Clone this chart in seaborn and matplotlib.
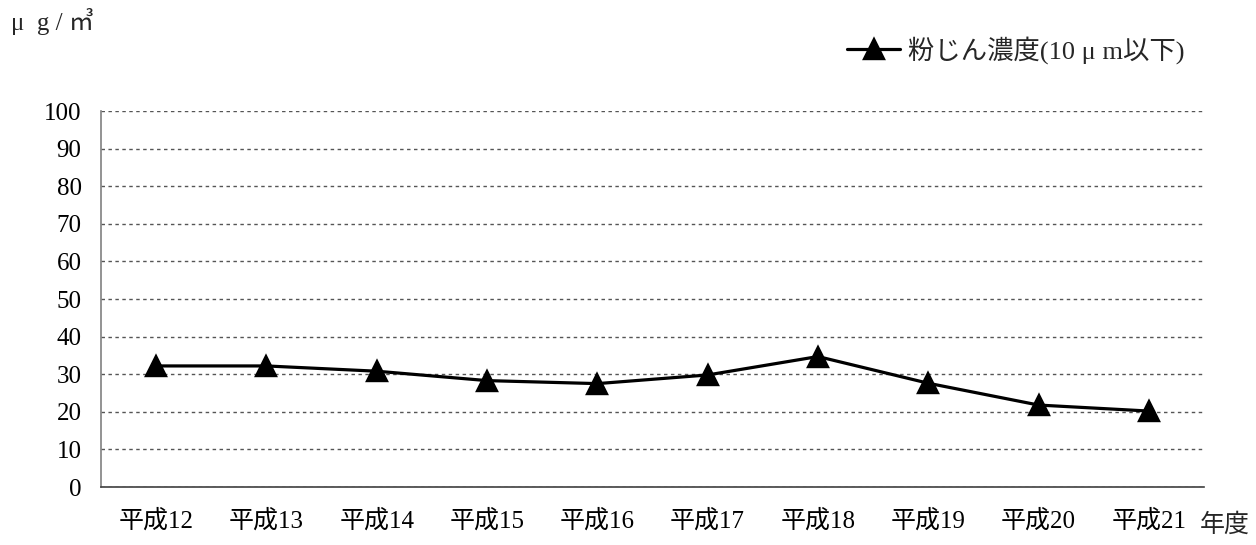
import matplotlib
matplotlib.use('Agg')
import pandas as pd
import matplotlib.pyplot as plt
import seaborn as sns

years = ['平成12', '平成13', '平成14', '平成15', '平成16',
         '平成17', '平成18', '平成19', '平成20', '平成21']
dust = [32.2, 32.2, 30.8, 28.3, 27.5, 29.8, 34.7, 27.6, 21.8, 20.2]
yticks = [0, 10, 20, 30, 40, 50, 60, 70, 80, 90, 100]
series_label = '粉じん濃度(10 μ m以下)'

df = pd.DataFrame({'year': years, 'value': dust})

sns.set_theme(style='white')
fonts = ['Liberation Serif', 'Noto Sans CJK JP', 'DejaVu Sans']
plt.rcParams['font.family'] = fonts

fig = plt.figure(figsize=(12.56, 5.45), dpi=100)
ax = fig.add_axes([0.0804, 0.1064, 0.8782, 0.6899])

sns.pointplot(data=df, x='year', y='value', ax=ax, color='black',
              markers='^', linestyles='-', errorbar=None,
              markersize=15, linewidth=2.3, label=series_label)

ax.set_xlim(-0.5, len(years) - 0.5)
ax.set_ylim(0, 100)
ax.set_yticks(yticks)
ax.set_xlabel('')
ax.set_ylabel('')
ax.yaxis.grid(True, linestyle=(0, (2.5, 2.5)), color='#555555', linewidth=1)
ax.xaxis.grid(False)
ax.tick_params(axis='y', length=0, pad=14, labelsize=18, colors='black')
ax.tick_params(axis='x', length=0, pad=16, labelsize=18, colors='black')
ax.spines[['top', 'right']].set_visible(False)
ax.spines['left'].set_color('#808080')
ax.spines['bottom'].set_color('#404040')
ax.spines['left'].set_linewidth(1.2)
ax.spines['bottom'].set_linewidth(1.2)

fig.text(0.009, 0.96, 'μ  g / ㎥', fontsize=18, va='center', ha='left')
fig.text(0.995, 0.037, '年度', fontsize=18, va='center', ha='right')

leg = ax.legend(loc='center right', bbox_to_anchor=(0.962, 0.908),
                bbox_transform=fig.transFigure, frameon=False,
                fontsize=19, handlelength=2.0, handletextpad=0.3)

fig.savefig('out.png', dpi=100, facecolor='white')
